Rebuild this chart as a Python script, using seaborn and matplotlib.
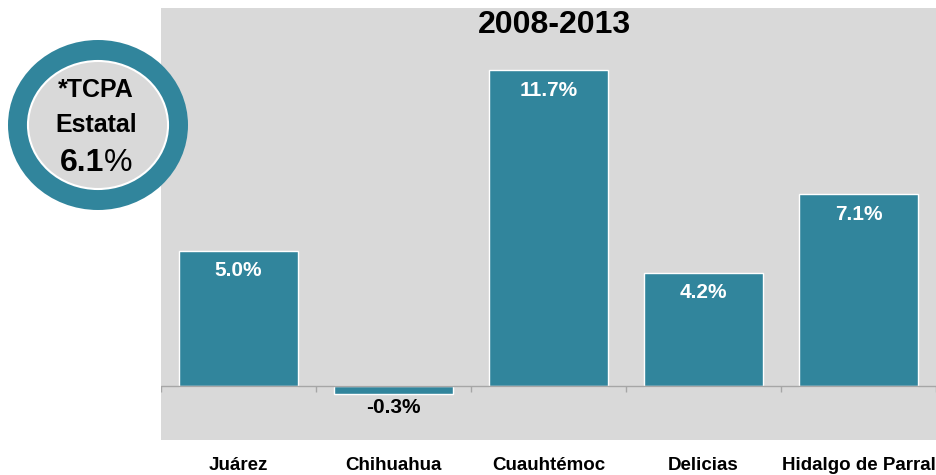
import numpy as np
import pandas as pd
import matplotlib
matplotlib.use("Agg")
import matplotlib.pyplot as plt
from matplotlib.patches import Ellipse
import seaborn as sns

# -------------------------------
# Data
# -------------------------------
municipios = ["Juárez", "Chihuahua", "Cuauhtémoc", "Delicias", "Hidalgo de Parral"]
tcpa = [5.0, -0.3, 11.7, 4.2, 7.1]
periodo = "2008-2013"
tcpa_estatal = 6.1

TEAL = "#31859C"
GRAY = "#D9D9D9"

sns.set_theme(style="white")
plt.rcParams["font.family"] = ["Liberation Sans", "DejaVu Sans"]
plt.rcParams["text.color"] = "black"

df = pd.DataFrame({"municipio": municipios, "tcpa": tcpa})

fig = plt.figure(figsize=(9.36, 4.75), dpi=100)
ax = fig.add_axes([161 / 936, 35 / 475, 775 / 936, 432 / 475])
ax.set_facecolor(GRAY)

sns.barplot(data=df, x="municipio", y="tcpa", color=TEAL, width=0.774,
            edgecolor="white", linewidth=1, saturation=1, ax=ax, zorder=2)

ax.set_ylim(-2, 14)
ax.set_xlim(-0.5, len(municipios) - 0.5)
ax.axhline(0, color="#A6A6A6", lw=1, zorder=3)
ax.vlines(np.arange(-0.5, len(municipios)), 0, -0.22, color="#A6A6A6", lw=1, zorder=3)

for s in ax.spines.values():
    s.set_visible(False)
ax.set_yticks([])
ax.set_xlabel("")
ax.set_ylabel("")
ax.tick_params(axis="x", length=0, pad=12)
for lbl in ax.get_xticklabels():
    lbl.set_fontsize(13.5)
    lbl.set_fontweight("bold")
    lbl.set_color("black")

# value labels
for i, v in enumerate(tcpa):
    if v >= 0:
        ax.text(i, v - 0.74, f"{v:.1f}%", ha="center", va="center",
                color="white", fontsize=15, fontweight="bold", zorder=4)
    else:
        ax.text(i, v - 0.5, f"{v:.1f}%", ha="center", va="center",
                color="black", fontsize=15, fontweight="bold", zorder=4)

ax.text(0.508, 0.96, periodo, transform=ax.transAxes, ha="center", va="center",
        fontsize=23, fontweight="bold", color="black")

# state badge
cax = fig.add_axes([8 / 936, (475 - 210) / 475, 180 / 936, 170 / 475])
cax.set_xlim(0, 1)
cax.set_ylim(0, 1)
cax.axis("off")
cax.add_patch(Ellipse((0.5, 0.5), 1.0, 1.0, facecolor=TEAL, edgecolor="none"))
cax.add_patch(Ellipse((0.5, 0.5), 0.778, 0.753, facecolor=GRAY,
                      edgecolor="white", lw=1.5))
cax.text(0.49, 0.706, "*TCPA", ha="center", va="center", fontsize=18, fontweight="bold")
cax.text(0.49, 0.5, "Estatal", ha="center", va="center", fontsize=18, fontweight="bold")
cax.text(0.535, 0.276, f"{tcpa_estatal:.1f}", ha="right", va="center", fontsize=23, fontweight="bold")
cax.text(0.535, 0.276, "%", ha="left", va="center", fontsize=23)

fig.savefig("out.png", dpi=100)
